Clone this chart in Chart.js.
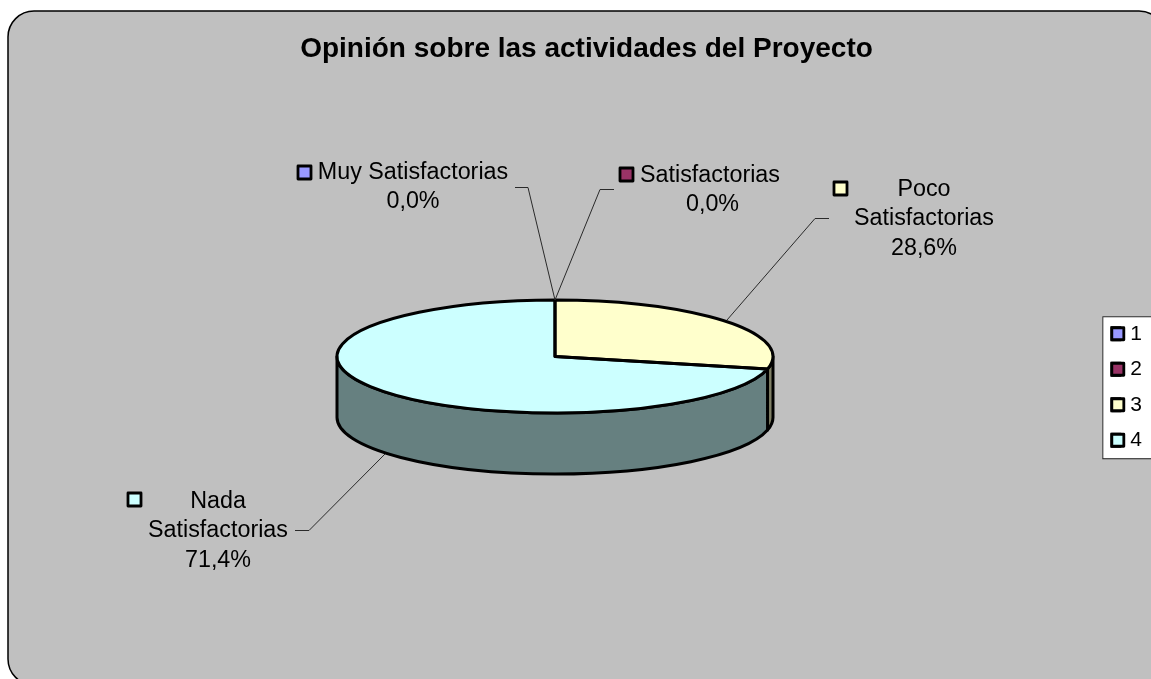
<!DOCTYPE html>
<html lang="es">
<head>
<meta charset="utf-8">
<title>Opinión sobre las actividades del Proyecto</title>
<script src="https://cdn.jsdelivr.net/npm/chart.js@4/dist/chart.umd.min.js"></script>
<style>html,body{margin:0;padding:0;background:#fff;overflow:hidden}canvas{display:block}</style>
</head>
<body>
<canvas id="c" width="1151" height="679"></canvas>
<script>
const chartTitle = 'Opinión sobre las actividades del Proyecto';
const legendLabels = ['1', '2', '3', '4'];
const categories = ['Muy Satisfactorias', 'Satisfactorias', 'Poco Satisfactorias', 'Nada Satisfactorias'];
const values = [0, 0, 2, 5];
const sliceColors = ['#9999FF', '#993366', '#FFFFCC', '#CCFFFF'];
const sideColors = ['#4D4D80', '#4D1A33', '#808066', '#668080'];

const FONT = '"Liberation Sans", Arial, sans-serif';
const PIE = { x: 555, y: 356.5, squash: 56.5 / 218, depth: 61, line: 3 };
const CALLOUTS = [
  { cx: 413, pctDx: 0, base: 179, swatch: [298, 166], leader: [[555, 300], [528, 187.5], [515, 187.5]], wrap: false },
  { cx: 710, pctDx: 2.5, base: 182, swatch: [620, 168], leader: [[555, 300], [600, 189.5], [614, 189.5]], wrap: false },
  { cx: 924, pctDx: 0, base: 196, swatch: [834, 182], leader: [[727, 320], [815, 218.5], [829, 218.5]], wrap: true },
  { cx: 218, pctDx: 0, base: 508, swatch: [128, 493], leader: [[385, 454], [309, 530.5], [295, 530.5]], wrap: true }
];

function percent(v) {
  const total = values.reduce((a, b) => a + b, 0);
  return (v / total * 100).toFixed(1).replace('.', ',') + '%';
}
function swatch(ctx, x, y, w, h, color) {
  ctx.save();
  ctx.fillStyle = color;
  ctx.strokeStyle = '#000';
  ctx.lineWidth = 2.8;
  ctx.lineJoin = 'round';
  ctx.fillRect(x, y, w, h);
  ctx.strokeRect(x, y, w, h);
  ctx.restore();
}
function px(r, a) { return PIE.x + r * Math.cos(a); }
function py(r, a) { return PIE.y + PIE.squash * r * Math.sin(a); }

const pie3d = {
  id: 'pie3d',
  beforeDraw(chart) {
    const ctx = chart.ctx;
    ctx.save();
    ctx.fillStyle = '#fff';
    ctx.fillRect(0, 0, chart.width, chart.height);
    ctx.beginPath();
    ctx.roundRect(8, 11, 1157, 674, 26);
    ctx.fillStyle = '#C0C0C0';
    ctx.fill();
    ctx.strokeStyle = '#000';
    ctx.lineWidth = 1.5;
    ctx.stroke();
    const hit = chart.legend.legendHitBoxes;
    const left = hit[0].left - 9.5;
    const top = hit[0].top - 7;
    const bottom = hit[hit.length - 1].top + hit[hit.length - 1].height + 7.5;
    ctx.fillStyle = '#fff';
    ctx.fillRect(left, top, 70, bottom - top);
    ctx.strokeStyle = '#222';
    ctx.lineWidth = 1;
    ctx.strokeRect(left + 0.5, top + 0.5, 70, bottom - top);
    ctx.restore();
  },
  beforeDatasetsDraw(chart) {
    const ctx = chart.ctx;
    const arcs = chart.getDatasetMeta(0).data;
    // extruded wall of each slice, front half only
    arcs.forEach((el, i) => {
      const a0 = Math.max(el.startAngle, 0), a1 = Math.min(el.endAngle, Math.PI);
      if (a1 <= a0) return;
      const r = el.outerRadius;
      ctx.save();
      ctx.beginPath();
      ctx.ellipse(PIE.x, PIE.y, r, r * PIE.squash, 0, a0, a1);
      ctx.lineTo(px(r, a1), py(r, a1) + PIE.depth);
      ctx.ellipse(PIE.x, PIE.y + PIE.depth, r, r * PIE.squash, 0, a1, a0, true);
      ctx.closePath();
      ctx.fillStyle = sideColors[i];
      ctx.fill();
      ctx.strokeStyle = '#000';
      ctx.lineWidth = PIE.line;
      ctx.lineJoin = 'round';
      ctx.stroke();
      ctx.restore();
    });
    const c = arcs[0];
    ctx.save();
    ctx.translate(PIE.x, PIE.y);
    ctx.scale(1, PIE.squash);
    ctx.translate(-c.x, -c.y);
  },
  afterDatasetsDraw(chart) {
    const ctx = chart.ctx;
    ctx.restore();
    chart.getDatasetMeta(0).data.forEach((el) => {
      if (el.endAngle - el.startAngle <= 0) return;
      const r = el.outerRadius;
      ctx.save();
      ctx.beginPath();
      ctx.moveTo(PIE.x, PIE.y);
      ctx.lineTo(px(r, el.startAngle), py(r, el.startAngle));
      ctx.ellipse(PIE.x, PIE.y, r, r * PIE.squash, 0, el.startAngle, el.endAngle);
      ctx.closePath();
      ctx.strokeStyle = '#000';
      ctx.lineWidth = PIE.line;
      ctx.lineJoin = 'round';
      ctx.stroke();
      ctx.restore();
    });
  },
  afterDraw(chart) {
    const ctx = chart.ctx;
    // wider legend swatches over the ones the legend drew
    chart.legend.legendHitBoxes.forEach((h, i) => {
      swatch(ctx, h.left, h.top + (h.height - 12) / 2, 12, 12, sliceColors[i]);
    });
    // callouts
    ctx.save();
    CALLOUTS.forEach((c, i) => {
      ctx.beginPath();
      c.leader.forEach((p, j) => j ? ctx.lineTo(p[0], p[1]) : ctx.moveTo(p[0], p[1]));
      ctx.strokeStyle = '#2a2a2a';
      ctx.lineWidth = 1;
      ctx.stroke();
      swatch(ctx, c.swatch[0], c.swatch[1], 13, 13, sliceColors[i]);
      const name = categories[i];
      const rows = c.wrap ? name.split(' ') : [name];
      ctx.font = '23.3px ' + FONT;
      ctx.fillStyle = '#000';
      ctx.textAlign = 'center';
      ctx.textBaseline = 'alphabetic';
      rows.forEach((t, k) => ctx.fillText(t, c.cx, c.base + k * 29.4));
      ctx.fillText(percent(values[i]), c.cx + c.pctDx, c.base + rows.length * 29.4);
    });
    ctx.restore();
  }
};

new Chart(document.getElementById('c'), {
  type: 'pie',
  data: {
    labels: legendLabels,
    datasets: [{
      data: values,
      backgroundColor: sliceColors,
      borderWidth: 0
    }]
  },
  options: {
    responsive: false,
    animation: false,
    layout: { padding: { left: 21, top: 0, right: -1, bottom: 74 } },
    plugins: {
      tooltip: { enabled: false },
      title: {
        display: true,
        text: chartTitle,
        color: '#000',
        font: { family: FONT, size: 28, weight: 'bold', lineHeight: 1.2 },
        padding: { top: 32.5, bottom: 102.9 }
      },
      legend: {
        display: true,
        position: 'right',
        fullSize: false,
        onClick: null,
        labels: {
          color: '#000',
          font: { family: FONT, size: 21 },
          boxWidth: 8,
          boxHeight: 12,
          padding: 14.5,
          generateLabels(chart) {
            return legendLabels.map((t, i) => ({
              text: t,
              fillStyle: sliceColors[i],
              strokeStyle: '#000',
              lineWidth: 2.8,
              index: i,
              fontColor: '#000'
            }));
          }
        }
      }
    }
  },
  plugins: [pie3d]
});
</script>
</body>
</html>
